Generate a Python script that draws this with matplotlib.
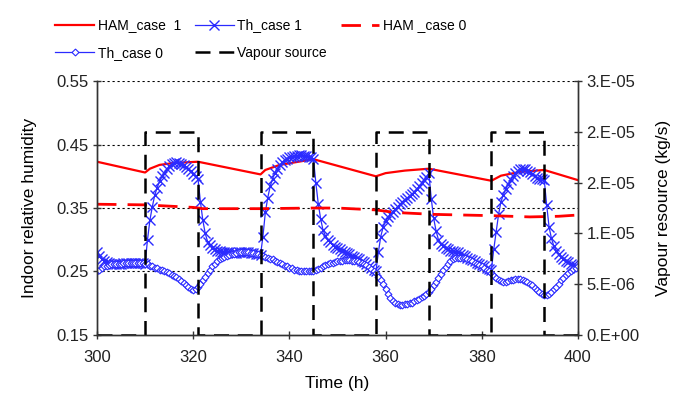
import matplotlib
matplotlib.use("Agg")
import matplotlib.pyplot as plt
import numpy as np

plt.rcParams['font.family'] = ['Liberation Sans', 'DejaVu Sans']

# ---- data (half-hourly, 300 h .. 400 h) ----
hours = [300 + 0.5 * i for i in range(201)]
th_case0 = [
    0.250, 0.253, 0.256, 0.258, 0.259, 0.260, 0.261, 0.262, 0.262, 0.262,
    0.262, 0.263, 0.263, 0.263, 0.263, 0.263, 0.263, 0.263, 0.263, 0.263,
    0.262, 0.261, 0.259, 0.258, 0.256, 0.255, 0.253, 0.252, 0.250, 0.249,
    0.247, 0.245, 0.243, 0.241, 0.238, 0.235, 0.232, 0.228, 0.225, 0.222,
    0.221, 0.222, 0.225, 0.230, 0.236, 0.242, 0.248, 0.253, 0.258, 0.262,
    0.266, 0.269, 0.271, 0.273, 0.275, 0.276, 0.277, 0.278, 0.279, 0.280,
    0.280, 0.280, 0.280, 0.280, 0.279, 0.279, 0.278, 0.277, 0.276, 0.275,
    0.273, 0.272, 0.270, 0.269, 0.267, 0.265, 0.263, 0.261, 0.259, 0.258,
    0.256, 0.255, 0.253, 0.252, 0.251, 0.251, 0.250, 0.250, 0.250, 0.250,
    0.250, 0.252, 0.254, 0.256, 0.258, 0.260, 0.261, 0.263, 0.264, 0.265,
    0.266, 0.267, 0.267, 0.268, 0.268, 0.268, 0.267, 0.267, 0.266, 0.265,
    0.264, 0.262, 0.260, 0.257, 0.254, 0.251, 0.247, 0.242, 0.237, 0.230,
    0.222, 0.215, 0.208, 0.203, 0.200, 0.198, 0.197, 0.197, 0.198, 0.199,
    0.200, 0.201, 0.203, 0.205, 0.207, 0.209, 0.212, 0.215, 0.218, 0.223,
    0.228, 0.234, 0.240, 0.246, 0.252, 0.257, 0.262, 0.266, 0.269, 0.271,
    0.272, 0.272, 0.272, 0.271, 0.270, 0.268, 0.266, 0.264, 0.262, 0.260,
    0.258, 0.256, 0.253, 0.250, 0.247, 0.243, 0.240, 0.237, 0.235, 0.234,
    0.234, 0.235, 0.236, 0.237, 0.238, 0.238, 0.238, 0.237, 0.235, 0.233,
    0.231, 0.228, 0.224, 0.220, 0.217, 0.214, 0.213, 0.213, 0.215, 0.218,
    0.222, 0.226, 0.231, 0.236, 0.240, 0.244, 0.248, 0.251, 0.254, 0.256,
    0.258]
th_case1 = [
    0.281, 0.275, 0.270, 0.267, 0.265, 0.263, 0.262, 0.262, 0.262, 0.262,
    0.262, 0.263, 0.263, 0.263, 0.263, 0.263, 0.263, 0.263, 0.263, 0.263,
    0.262, 0.300, 0.331, 0.352, 0.370, 0.382, 0.392, 0.400, 0.406, 0.411,
    0.416, 0.419, 0.421, 0.422, 0.421, 0.420, 0.418, 0.415, 0.412, 0.408,
    0.404, 0.400, 0.396, 0.360, 0.331, 0.310, 0.297, 0.291, 0.287, 0.285,
    0.283, 0.282, 0.281, 0.280, 0.280, 0.280, 0.279, 0.279, 0.279, 0.280,
    0.280, 0.280, 0.280, 0.280, 0.279, 0.279, 0.278, 0.277, 0.276, 0.305,
    0.343, 0.366, 0.384, 0.396, 0.405, 0.412, 0.418, 0.422, 0.426, 0.428,
    0.430, 0.431, 0.432, 0.432, 0.433, 0.433, 0.432, 0.432, 0.431, 0.430,
    0.428, 0.390, 0.357, 0.333, 0.315, 0.306, 0.300, 0.296, 0.292, 0.289,
    0.287, 0.285, 0.283, 0.281, 0.279, 0.277, 0.275, 0.273, 0.271, 0.269,
    0.267, 0.265, 0.262, 0.259, 0.256, 0.253, 0.250, 0.280, 0.305, 0.320,
    0.330, 0.336, 0.340, 0.344, 0.348, 0.352, 0.356, 0.360, 0.363, 0.366,
    0.369, 0.372, 0.376, 0.380, 0.384, 0.389, 0.394, 0.399, 0.405, 0.365,
    0.334, 0.314, 0.300, 0.294, 0.290, 0.287, 0.285, 0.283, 0.282, 0.281,
    0.280, 0.278, 0.276, 0.274, 0.272, 0.270, 0.268, 0.266, 0.264, 0.262,
    0.260, 0.258, 0.256, 0.254, 0.252, 0.285, 0.313, 0.340, 0.360, 0.371,
    0.380, 0.388, 0.394, 0.400, 0.405, 0.409, 0.412, 0.412, 0.411, 0.409,
    0.407, 0.404, 0.401, 0.398, 0.396, 0.395, 0.394, 0.355, 0.320, 0.302,
    0.290, 0.283, 0.277, 0.273, 0.270, 0.267, 0.265, 0.262, 0.260, 0.258,
    0.256]
ham1_t = [300, 310, 311, 313, 316, 321, 334, 335, 338, 345, 358, 360, 364, 369,
          382, 384, 388, 393, 400]
ham1_v = [0.423, 0.406, 0.412, 0.418, 0.421, 0.423, 0.403, 0.410, 0.418, 0.427,
          0.400, 0.405, 0.409, 0.412, 0.393, 0.401, 0.407, 0.410, 0.394]
ham0_t = [300, 310, 320, 322, 334, 345, 350, 358, 362, 370, 382, 390, 396, 400]
ham0_v = [0.356, 0.355, 0.351, 0.349, 0.349, 0.350, 0.350, 0.347, 0.343, 0.340,
          0.338, 0.336, 0.337, 0.339]
vap_on = [310, 334, 358, 382]
vap_off = [321, 345, 369, 393]
vap_rate = 2e-5

left_ticks = [0.15, 0.25, 0.35, 0.45, 0.55]
right_ticks = [0, 5e-6, 1e-5, 1.5e-5, 2e-5, 2.5e-5]
right_labels = ["0.E+00", "5.E-06", "1.E-05", "2.E-05", "2.E-05", "3.E-05"]
x_ticks = [300, 320, 340, 360, 380, 400]

# vapour step series
vt = [300]
vv = [0]
for a, b in zip(vap_on, vap_off):
    vt += [a, a, b, b]
    vv += [0, vap_rate, vap_rate, 0]
vt.append(400)
vv.append(0)

fig = plt.figure(figsize=(6.88, 3.94), dpi=100)
ax = fig.add_axes([0.141, 0.150, 0.699, 0.644])
ax2 = ax.twinx()

blue = '#2b2bff'
l1, = ax.plot(ham1_t, ham1_v, color='#ff0000', lw=1.6)
l2, = ax.plot(hours, th_case1, color=blue, lw=0.9, marker='x', ms=6.5, mew=1.0)
l3, = ax.plot(ham0_t, ham0_v, color='#ff0000', lw=2.0, dashes=(7, 4))
l4, = ax.plot(hours, th_case0, color=blue, lw=0.9, marker='D', ms=3.5, mfc='white',
              mec=blue, mew=0.8)
l5, = ax2.plot(vt, vv, color='black', lw=1.8, dashes=(6, 3.5))

ax.set_xlim(300, 400)
ax.set_ylim(0.15, 0.55)
ax.set_yticks(left_ticks)
ax.set_yticklabels(["%.2f" % v for v in left_ticks])
ax.set_xticks(x_ticks)
for v in left_ticks[1:]:
    ax.axhline(v, color='black', lw=0.8, ls=(0, (2, 2.5)), zorder=0.5)

ax2.set_ylim(0, 2.5e-5)
ax2.set_yticks(right_ticks)
ax2.set_yticklabels(right_labels)

for a in (ax, ax2):
    a.spines['top'].set_visible(False)
    for s in a.spines.values():
        s.set_color('#333333')
        s.set_linewidth(1.0)
ax.tick_params(axis='both', direction='inout', length=6, width=1, labelsize=12,
               colors='#333333', labelcolor='#222222', pad=3)
ax.tick_params(axis='x', pad=8)
ax2.tick_params(axis='y', direction='inout', length=6, width=1, labelsize=12,
                colors='#333333', labelcolor='#222222', pad=3)

ax.set_xlabel('Time (h)', fontsize=12.5, labelpad=8)
ax.set_ylabel('Indoor relative humidity', fontsize=12.5, labelpad=14)
ax2.set_ylabel('Vapour resource (kg/s)', fontsize=12.5, labelpad=12)

fig.legend([l1, l4, l2, l5, l3],
           ['HAM_case  1', 'Th_case 0', 'Th_case 1', 'Vapour source', 'HAM _case 0'],
           ncol=3, loc='upper left', bbox_to_anchor=(0.062, 0.985), frameon=False,
           fontsize=10, handlelength=2.8, columnspacing=1.0, handletextpad=0.25,
           labelspacing=1.0)

fig.savefig('out.png', dpi=100)
